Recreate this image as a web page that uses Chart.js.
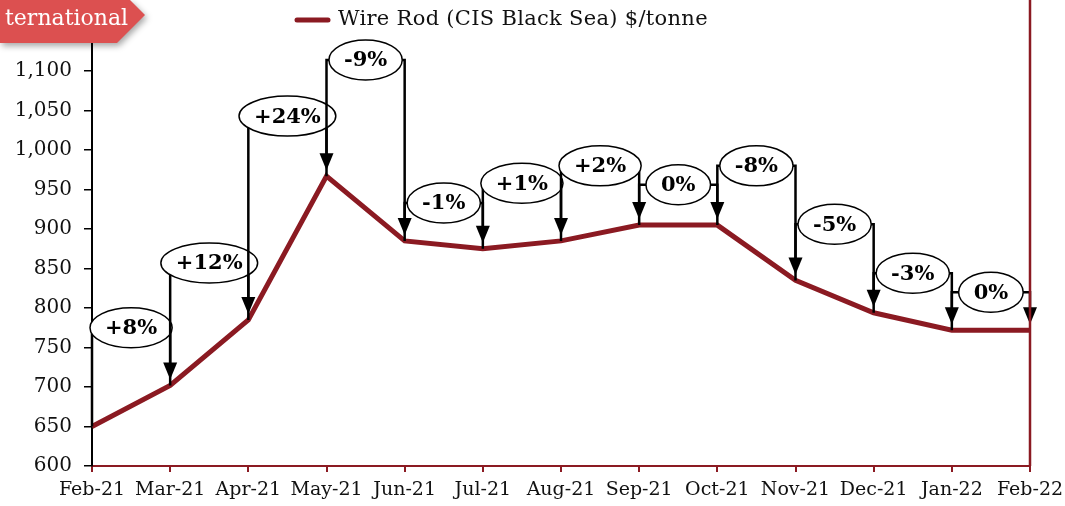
<!DOCTYPE html>
<html>
<head>
<meta charset="utf-8">
<script src="https://cdn.jsdelivr.net/npm/chart.js@4/dist/chart.umd.min.js"></script>
<style>
  body { margin: 0; background: #fff; }
  #wrap { width: 1065px; height: 506px; }
</style>
</head>
<body>
<div id="wrap"><canvas id="chart" width="1065" height="506"></canvas></div>
<script>
// Data
const months = ['Feb-21', 'Mar-21', 'Apr-21', 'May-21', 'Jun-21', 'Jul-21', 'Aug-21',
                'Sep-21', 'Oct-21', 'Nov-21', 'Dec-21', 'Jan-22', 'Feb-22'];
const prices = [650, 702, 785, 967, 885, 875, 885, 905, 905, 835, 794, 772, 772];
const changeLabels = ['+8%', '+12%', '+24%', '-9%', '-1%', '+1%', '+2%', '0%', '-8%', '-5%', '-3%', '0%'];
// height (in $/tonne) of each bracket carrying a change label
const labelLevels = [775, 857, 1043, 1114, 933, 958, 980, 956, 980, 906, 844, 820];
const seriesName = 'Wire Rod (CIS Black Sea) $/tonne';
const bannerText = 'ternational';

const lineColor = '#8B1A22';
const serif = "'DejaVu Serif', 'Liberation Serif', serif";
Chart.defaults.font.family = serif;

// Brackets, arrows and oval labels between consecutive months
const bracketPlugin = {
    id: 'brackets',
    afterDatasetsDraw(chart) {
        const ctx = chart.ctx;
        const xs = chart.scales.x;
        const ys = chart.scales.y;
        ctx.save();
        for (let i = 0; i < changeLabels.length; i++) {
            const x0 = xs.getPixelForValue(i);
            const x1 = xs.getPixelForValue(i + 1);
            const y0 = ys.getPixelForValue(prices[i]);
            const y1 = ys.getPixelForValue(prices[i + 1]);
            const yL = ys.getPixelForValue(labelLevels[i]);
            const tip = y1 - 6;
            const head = 17;

            ctx.strokeStyle = '#000';
            ctx.lineWidth = 2.5;
            ctx.beginPath();
            ctx.moveTo(x0, y0);
            ctx.lineTo(x0, yL);
            ctx.lineTo(x1, yL);
            ctx.lineTo(x1, tip - head + 2);
            ctx.stroke();

            ctx.fillStyle = '#000';
            ctx.beginPath();
            ctx.moveTo(x1 - 7, tip - head);
            ctx.lineTo(x1 + 7, tip - head);
            ctx.lineTo(x1, tip);
            ctx.closePath();
            ctx.fill();

            // oval label
            ctx.font = 'bold 21px ' + serif;
            const tw = ctx.measureText(changeLabels[i]).width;
            const cx = (x0 + x1) / 2;
            ctx.beginPath();
            ctx.ellipse(cx, yL, tw / 2 + 15, 20, 0, 0, Math.PI * 2);
            ctx.fillStyle = '#fff';
            ctx.fill();
            ctx.lineWidth = 1.5;
            ctx.stroke();
            ctx.fillStyle = '#000';
            ctx.textAlign = 'center';
            ctx.textBaseline = 'middle';
            ctx.fillText(changeLabels[i], cx, yL + 1);
        }
        ctx.restore();
    },
    afterDraw(chart) {
        const ctx = chart.ctx;
        const area = chart.chartArea;
        ctx.save();
        // right border of the plot
        ctx.strokeStyle = lineColor;
        ctx.lineWidth = 2.5;
        ctx.beginPath();
        ctx.moveTo(area.right, 0);
        ctx.lineTo(area.right, area.bottom);
        ctx.stroke();

        // legend
        ctx.lineCap = 'round';
        ctx.lineWidth = 5;
        ctx.beginPath();
        ctx.moveTo(297, 20);
        ctx.lineTo(328, 20);
        ctx.stroke();
        ctx.fillStyle = '#111';
        ctx.font = '21px ' + serif;
        ctx.letterSpacing = '0.3px';
        ctx.textBaseline = 'middle';
        ctx.textAlign = 'left';
        ctx.fillText(seriesName, 338, 20);

        // section banner in the corner
        ctx.shadowColor = 'rgba(0,0,0,0.35)';
        ctx.shadowBlur = 6;
        ctx.shadowOffsetX = 2;
        ctx.shadowOffsetY = 3;
        ctx.fillStyle = '#DC5050';
        ctx.beginPath();
        ctx.moveTo(0, 0);
        ctx.lineTo(130, 0);
        ctx.lineTo(145, 15);
        ctx.lineTo(117, 43);
        ctx.lineTo(0, 43);
        ctx.closePath();
        ctx.fill();
        ctx.shadowColor = 'transparent';
        ctx.fillStyle = '#fff';
        ctx.font = '22px ' + serif;
        ctx.letterSpacing = '0px';
        ctx.fillText(bannerText, 5, 19);
        ctx.restore();
    }
};

new Chart(document.getElementById('chart'), {
    type: 'line',
    data: {
        labels: months,
        datasets: [{
            label: seriesName,
            data: prices,
            borderColor: lineColor,
            borderWidth: 5,
            pointRadius: 0,
            tension: 0,
            fill: false
        }]
    },
    options: {
        responsive: false,
        animation: false,
        layout: { padding: { top: 0, right: 35, left: 0, bottom: 0 } },
        plugins: {
            legend: { display: false },
            tooltip: { enabled: false }
        },
        scales: {
            x: {
                offset: false,
                grid: { drawOnChartArea: false, drawTicks: true, tickLength: 6, color: lineColor, lineWidth: 2 },
                border: { color: lineColor, width: 2 },
                ticks: { color: '#111', font: { size: 19 }, maxRotation: 0, autoSkip: false, padding: 7 },
                afterFit(scale) {
                    scale.height = 40;
                    scale.paddingLeft = 0;
                    scale.paddingRight = 0;
                }
            },
            y: {
                min: 600,
                max: 1190,
                grid: { drawOnChartArea: false, drawTicks: true, tickLength: 8, color: '#000', lineWidth: 1.5 },
                border: { color: '#000', width: 2 },
                ticks: {
                    stepSize: 50,
                    color: '#111',
                    font: { size: 20 },
                    padding: 12,
                    callback: v => v.toLocaleString('en-US')
                },
                afterBuildTicks(scale) {
                    scale.ticks = scale.ticks.filter(t => t.value <= 1100);
                },
                afterFit(scale) {
                    scale.width = 92;
                    scale.paddingTop = 0;
                }
            }
        }
    },
    plugins: [bracketPlugin]
});
</script>
</body>
</html>
